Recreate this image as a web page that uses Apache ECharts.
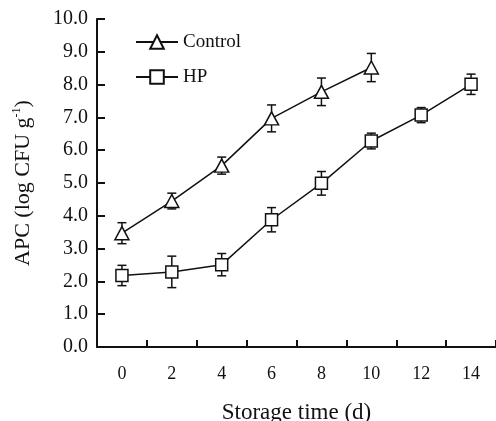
<!DOCTYPE html>
<html>
<head>
<meta charset="utf-8">
<script src="https://cdn.jsdelivr.net/npm/echarts@6/dist/echarts.min.js"></script>
<style>html,body{margin:0;padding:0;background:#fff}#c{width:496px;height:421px}</style>
</head>
<body>
<div id="c"></div>
<script>
const days = ['0', '2', '4', '6', '8', '10', '12', '14'];
const controlMean = [3.47, 4.45, 5.53, 6.97, 7.78, 8.52];
const controlErr = [0.32, 0.24, 0.26, 0.41, 0.42, 0.43];
const hpMean = [2.18, 2.29, 2.51, 3.88, 4.99, 6.28, 7.07, 8.01];
const hpErr = [0.31, 0.48, 0.34, 0.37, 0.36, 0.24, 0.23, 0.31];
const yTicks = [0, 1, 2, 3, 4, 5, 6, 7, 8, 9, 10];

const FONT = '"Liberation Serif", "DejaVu Serif", serif';
const INK = '#111';

function errData(mean, err) {
  return mean.map((m, i) => [i, m - err[i], m + err[i]]);
}

function errRender(params, api) {
  const x = api.value(0);
  const lo = api.coord([x, api.value(1)]);
  const hi = api.coord([x, api.value(2)]);
  const hw = 4.5;
  const st = { stroke: INK, lineWidth: 1.5, fill: null };
  return {
    type: 'group',
    children: [
      { type: 'line', shape: { x1: lo[0], y1: lo[1], x2: hi[0], y2: hi[1] }, style: st },
      { type: 'line', shape: { x1: lo[0] - hw, y1: lo[1], x2: lo[0] + hw, y2: lo[1] }, style: st },
      { type: 'line', shape: { x1: hi[0] - hw, y1: hi[1], x2: hi[0] + hw, y2: hi[1] }, style: st }
    ]
  };
}

const chart = echarts.init(document.getElementById('c'), null, { renderer: 'canvas' });
chart.setOption({
  animation: false,
  backgroundColor: '#fff',
  textStyle: { fontFamily: FONT, color: INK },
  grid: { left: 97, right: 0, top: 19, height: 328, containLabel: false, outerBoundsMode: 'none' },
  legend: {
    orient: 'vertical',
    left: 130,
    top: 27,
    itemWidth: 42,
    itemHeight: 17,
    itemGap: 15,
    data: ['Control', 'HP'],
    textStyle: { fontFamily: FONT, fontSize: 19, color: INK, lineHeight: 20 }
  },
  xAxis: {
    type: 'category',
    data: days,
    boundaryGap: true,
    name: 'Storage time (d)',
    nameLocation: 'middle',
    nameGap: 54,
    nameTextStyle: { fontFamily: FONT, fontSize: 23, color: INK },
    axisLine: { show: true, lineStyle: { color: INK, width: 2 } },
    axisTick: { show: true, inside: true, length: 7, interval: 0, alignWithLabel: false, lineStyle: { color: INK, width: 2 } },
    axisLabel: { fontFamily: FONT, fontSize: 18, color: INK, margin: 18 },
    splitLine: { show: false }
  },
  yAxis: {
    type: 'value',
    min: 0,
    max: 10,
    interval: 1,
    name: '{a|APC (log CFU g}{s|-1}{a|)}',
    nameLocation: 'middle',
    nameGap: 62,
    nameTextStyle: {
      fontFamily: FONT, fontSize: 22, color: INK,
      rich: {
        a: { fontFamily: FONT, fontSize: 22, color: INK, lineHeight: 24 },
        s: { fontFamily: FONT, fontSize: 12, color: INK, verticalAlign: 'top', lineHeight: 24 }
      }
    },
    axisLine: { show: true, lineStyle: { color: INK, width: 2 } },
    axisTick: { show: true, inside: true, length: 8, lineStyle: { color: INK, width: 2 } },
    axisLabel: {
      fontFamily: FONT, fontSize: 20, color: INK, margin: 9,
      formatter: v => yTicks.includes(v) ? v.toFixed(1) : ''
    },
    splitLine: { show: false }
  },
  series: [
    {
      name: 'Control-err', type: 'custom', renderItem: errRender,
      data: errData(controlMean, controlErr), z: 1, silent: true
    },
    {
      name: 'HP-err', type: 'custom', renderItem: errRender,
      data: errData(hpMean, hpErr), z: 1, silent: true
    },
    {
      name: 'Control', type: 'line', data: controlMean, z: 3,
      symbol: 'triangle', symbolSize: [14, 13],
      lineStyle: { color: INK, width: 1.5 },
      itemStyle: { color: '#fff', borderColor: INK, borderWidth: 1.5 }
    },
    {
      name: 'HP', type: 'line', data: hpMean, z: 3,
      symbol: 'rect', symbolSize: [12, 12],
      lineStyle: { color: INK, width: 1.5 },
      itemStyle: { color: '#fff', borderColor: INK, borderWidth: 1.5 }
    }
  ]
});
</script>
</body>
</html>
